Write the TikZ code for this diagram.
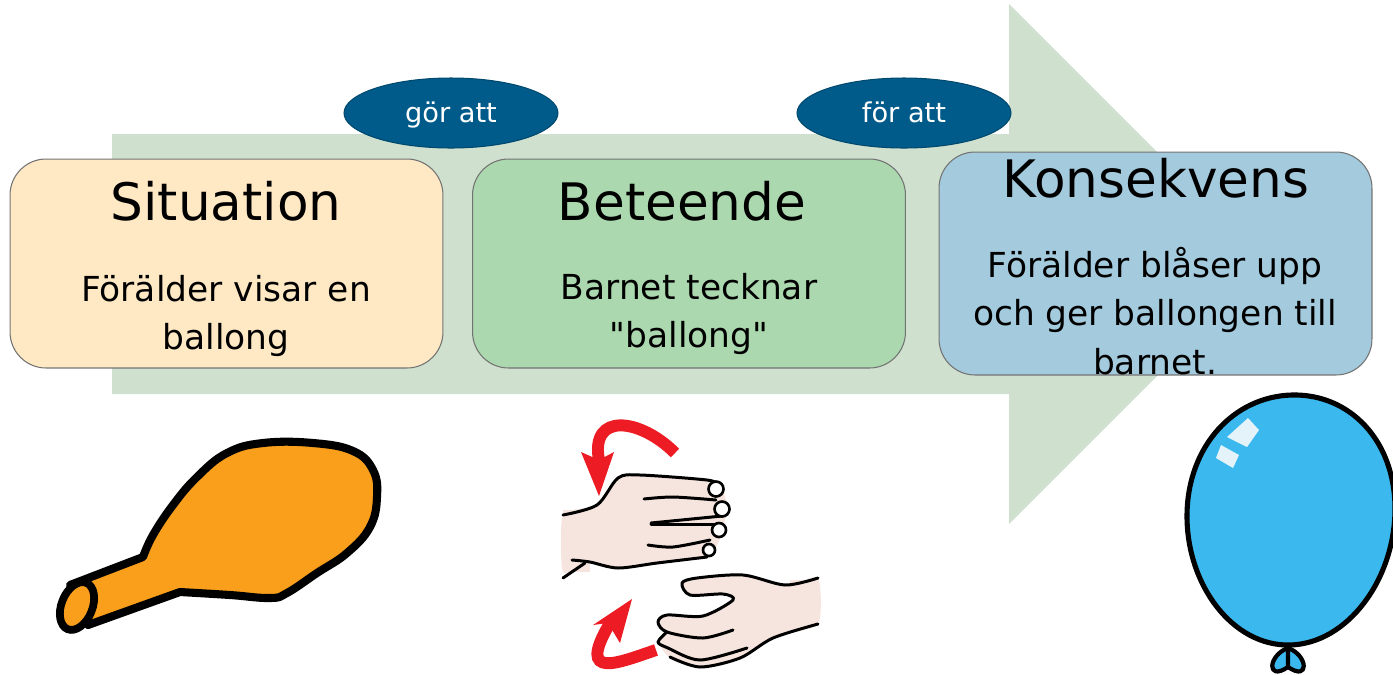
\documentclass[tikz,border=0pt]{standalone}
\usepackage{fontspec}
\setmainfont{DejaVu Sans}
\newfontfamily\plainfont{DejaVu Sans}
\usetikzlibrary{shapes.geometric}
\definecolor{arrowgreen}{HTML}{CFE0CE}
\definecolor{sitfill}{HTML}{FFE9C5}
\definecolor{behfill}{HTML}{ABD8AE}
\definecolor{consfill}{HTML}{A4CADD}
\definecolor{ovalblue}{HTML}{005B8A}
\definecolor{orangefill}{HTML}{FA9F1B}
\definecolor{handfill}{HTML}{F6E5DE}
\definecolor{signred}{HTML}{ED1C24}
\definecolor{balloonblue}{HTML}{3BB9EE}
\definecolor{shinewhite}{HTML}{E4F3FA}
\tikzset{
  stagebox/.style={draw=black!55, line width=0.6pt, rounded corners=0.72cm, minimum width=8.66cm, inner sep=0pt},
  stagetitle/.style={font=\fontsize{29.4}{34}\selectfont},
  stagebody/.style={font=\fontsize{19.6}{27.5}\selectfont, align=center},
  linkoval/.style={ellipse, draw=ovalblue!80!black, line width=0.6pt, fill=ovalblue, text=white, minimum width=4.28cm, minimum height=1.4cm, inner sep=0pt, text height=14pt, text depth=3pt, font=\fontsize{15.5}{18}\selectfont},
  handline/.style={line width=1.7pt, line cap=round, line join=round},
  nail/.style={circle, draw=black, line width=1.5pt, fill=white, inner sep=0pt},
}
\begin{document}
\begin{tikzpicture}[x=0.02cm, y=-0.02cm]
        \useasboundingbox (0, 0) rectangle (1393, 674);
        % big arrow
        \fill [arrowgreen] (112, 134) -- (1009, 134) -- (1009, 4) -- (1269, 264) -- (1009, 524) -- (1009, 394) -- (112, 394) -- cycle;
        % boxes
        \node (sitbox)  [stagebox, fill=sitfill, minimum height=4.18cm]  at (226.5, 263.5) {};
        \node (behbox)  [stagebox, fill=behfill, minimum height=4.18cm]  at (689, 263.5) {};
        \node (consbox) [stagebox, fill=consfill, minimum height=4.46cm] at (1155.5, 263.5) {};
        \node (sittitle)  [stagetitle] at (226, 201) {Situation};
        \node (behtitle)  [stagetitle] at (682, 201) {Beteende};
        \node (constitle) [stagetitle] at (1156, 178) {Konsekvens};
        \node (sitbody)  [stagebody] at (226, 316) {Förälder visar en\\ballong};
        \node (behbody)  [stagebody] at (689, 314) {Barnet tecknar\\{\plainfont"}ballong{\plainfont"}};
        \node (consbody) [stagebody] at (1155, 311) {Förälder blåser upp\\och ger ballongen till\\barnet.};
        \node (makes)   [linkoval] at (451, 113) {gör att};
        \node (inorder) [linkoval] at (904, 113) {för att};
        % orange balloon
        \draw [line width=4.6pt, line join=round, fill=orangefill, draw=black] (70, 585) -- (143, 557) -- plot [smooth, tension=0.7] coordinates {(143, 557) (153, 535) (173, 505) (197, 477) (227, 453) (263, 443) (313, 443) (353, 451) (373, 470) (377, 497) (370, 527) (347, 553) (317, 573) (287, 593) (270, 598) (230, 595) (180, 592)} -- (88, 625) -- cycle;
        \node (balloonneck) [ellipse, draw=black, line width=4.4pt, fill=orangefill, minimum width=0.62cm, minimum height=1cm, inner sep=0pt, rotate=-22] at (77, 606) {};
        % signing hands
        \fill [handfill] plot [smooth cycle, tension=0.35] coordinates {(563, 515) (597, 505) (618, 478) (640, 475) (707, 480) (722, 488) (727, 508) (722, 532) (713, 552) (687, 560) (623, 568) (590, 562) (563, 572)};
        \fill [handfill] (563, 510) rectangle (590, 572);
        \fill [handfill] plot [smooth cycle, tension=0.35] coordinates {(818, 578) (785, 585) (743, 575) (687, 580) (682, 585) (690, 595) (727, 595) (733, 602) (703, 616) (667, 615) (658, 623) (663, 632) (658, 643) (672, 660) (700, 667) (740, 658) (773, 638) (818, 624)};
        \fill [handfill] (790, 580) rectangle (818, 625);
        \draw [handline] plot [smooth, tension=0.5] coordinates {(563, 515) (597, 505) (618, 478) (640, 475) (707, 480) (716, 484)};
        \draw [handline] plot [smooth, tension=0.5] coordinates {(572, 560) (590, 562) (618, 568) (657, 563) (707, 557)};
        \draw [handline] (563, 578) -- (585, 563);
        \draw [handline] plot [smooth, tension=0.5] coordinates {(644, 499) (673, 497) (716, 500)};
        \draw [handline] (651, 523) -- (722, 516);
        \draw [handline] (651, 524) -- (717, 524);
        \draw [handline] plot [smooth, tension=0.5] coordinates {(648, 545) (673, 547) (710, 540)};
        \node (nailone)   [nail, minimum size=0.3cm]  at (716, 489) {};
        \node (nailtwo)   [nail, minimum size=0.3cm]  at (722, 509) {};
        \node (nailthree) [nail, minimum size=0.28cm] at (719, 530) {};
        \node (nailfour)  [nail, minimum size=0.24cm] at (709, 550) {};
        \draw [handline] plot [smooth, tension=0.5] coordinates {(818, 578) (785, 585) (743, 575) (697, 578) (682, 583) (690, 595) (723, 594) (733, 600) (703, 616) (667, 615) (658, 622) (667, 632) (703, 638) (733, 630)};
        \draw [handline] plot [smooth, tension=0.5] coordinates {(667, 632) (658, 642) (668, 648) (700, 660) (747, 648)};
        \draw [handline] plot [smooth, tension=0.5] coordinates {(670, 657) (700, 667) (740, 658) (773, 638) (818, 624)};
        % red arrows
        \fill [signred] (581, 452) -- (599, 460) -- (614, 452) -- (599, 496) -- cycle;
        \draw [signred, line width=6.8pt] (675, 453) .. controls (640, 418) and (590, 412) .. (599, 460);
        \fill [signred] (632, 599) -- (593, 625) -- (608, 623) -- (620, 643) -- cycle;
        \draw [signred, line width=6.8pt] (656, 650) .. controls (620, 662) and (575, 682) .. (610, 623);
        % blue balloon
        \draw [line width=2.9pt, fill=balloonblue] plot [smooth cycle, tension=1] coordinates {(1292, 395) (1395, 510) (1290, 645) (1187, 515)};
        \fill [shinewhite] (1248, 418) -- (1259, 430) -- (1247, 447) -- (1227, 437) -- cycle;
        \fill [shinewhite] (1221, 445) -- (1239, 455) -- (1233, 468) -- (1216, 458) -- cycle;
        \draw [line width=2.4pt, line join=round, fill=balloonblue] (1288, 648) .. controls (1268, 655) and (1266, 682) .. (1288, 667) .. controls (1310, 682) and (1308, 655) .. (1288, 648) -- (1288, 667);
\end{tikzpicture}
\end{document}
